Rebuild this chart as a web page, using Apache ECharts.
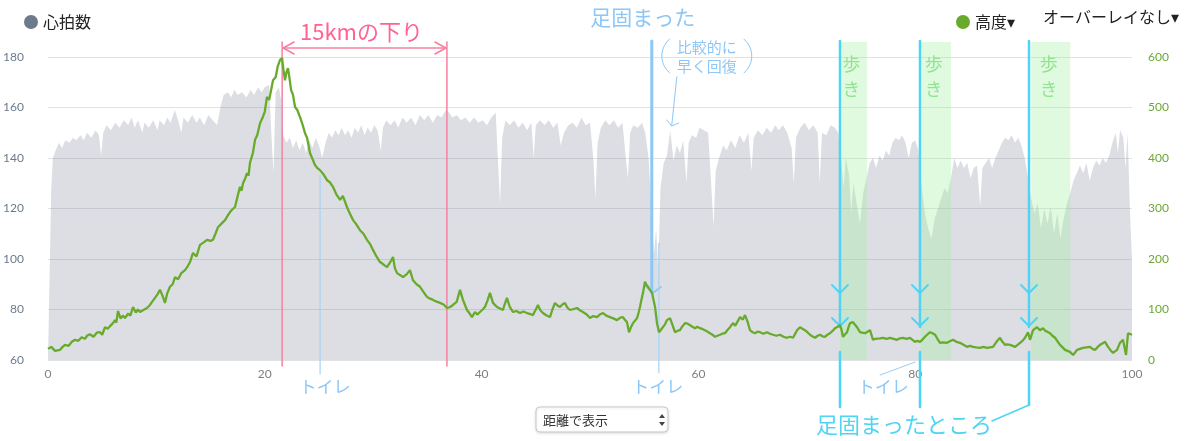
<!DOCTYPE html>
<html>
<head>
<meta charset="utf-8">
<title>心拍数と高度</title>
<style>
    html, body { margin: 0; padding: 0; background: #fff; }
    #main { width: 1200px; height: 441px; }
</style>
</head>
<body>
<div id="main"></div>
<script src="https://cdn.jsdelivr.net/npm/echarts@6/dist/echarts.min.js"></script>
<script type="text/javascript">
// 心拍数 [距離km, bpm]
var heartRate = [
    [0,60],[0.15,60],[0.3,128],[0.45,140],[0.7,143],[1.0,146],[1.3,144],[1.6,147],[2.0,146],[2.3,148],[2.6,147],[3.0,149],
    [3.3,147],[3.6,150],[4.0,148],[4.4,151],[4.7,149],[4.9,141],[5.1,150],[5.4,153],[5.8,151],[6.2,154],[6.6,152],[7.0,155],
    [7.4,153],[7.7,156],[8.0,152],[8.3,155],[8.7,150],[8.9,154],[9.3,152],[9.7,155],[10.1,151],[10.3,155],[10.7,153],[11.0,156],
    [11.3,154],[11.7,159],[12.0,155],[12.3,150],[12.5,156],[12.9,154],[13.3,157],[13.7,154],[14.0,156],[14.4,153],[14.8,157],
    [15.2,155],[15.6,153],[15.9,160],[16.2,165],[16.6,166],[16.9,164],[17.2,167],[17.5,165],[17.9,166],[18.3,164],[18.7,167],
    [19.0,165],[19.4,168],[19.7,166],[20.0,168],[20.4,169],[20.6,150],[20.8,134],[21.0,166],[21.3,168],[21.5,163],
    [21.7,149],[22.0,146],[22.3,148],[22.6,144],[22.9,147],[23.2,143],[23.5,146],[23.8,142],[24.1,147],[24.4,144],[24.7,148],
    [25.0,145],[25.3,140],[25.6,146],[25.9,150],[26.2,148],[26.5,151],[26.8,149],[27.1,152],[27.4,149],[27.7,151],[28.0,148],
    [28.3,152],[28.6,150],[28.9,153],[29.2,149],[29.5,152],[29.8,150],[30.1,153],[30.4,151],[30.7,143],[30.9,152],[31.2,155],
    [31.6,153],[32.0,155],[32.3,152],[32.7,156],[33.1,154],[33.5,156],[33.9,153],[34.3,157],[34.7,155],[35.1,157],[35.5,154],
    [35.9,157],[36.3,156],[36.7,159],[37.0,158],[37.3,156],[37.7,157],[38.1,155],[38.5,156],[38.9,154],[39.3,156],[39.7,154],
    [40.1,155],[40.5,153],[40.9,156],[41.3,158],[41.5,140],[41.7,122],[41.9,148],[42.2,155],[42.6,153],[43.0,155],[43.4,152],
    [43.8,154],[44.2,151],[44.6,154],[44.8,140],[45.0,153],[45.4,155],[45.8,153],[46.2,155],[46.6,152],[47.0,154],[47.3,145],
    [47.6,150],[48.0,153],[48.4,154],[48.8,152],[49.2,156],[49.6,153],[50.0,154],[50.3,140],[50.5,124],[50.7,146],[51.0,152],
    [51.4,155],[51.8,153],[52.2,155],[52.6,152],[53.0,154],[53.3,140],[53.5,132],[53.7,150],[54.0,153],[54.4,152],[54.8,154],
    [55.1,150],[55.4,140],[55.7,118],[55.9,102],[56.1,112],[56.3,96],[56.5,128],[56.8,138],[57.1,141],[57.4,151],[57.7,139],
    [58.0,145],[58.3,142],[58.6,147],[58.9,130],[59.1,146],[59.4,149],[59.8,148],[60.1,152],[60.5,151],[60.9,150],[61.2,128],
    [61.4,113],[61.6,135],[61.9,140],[62.3,145],[62.6,143],[63.0,147],[63.4,144],[63.8,149],[64.2,146],[64.6,150],[64.9,135],
    [65.1,148],[65.5,151],[65.9,149],[66.3,152],[66.7,150],[67.1,153],[67.4,151],[67.8,153],[68.2,150],[68.6,144],[68.8,130],
    [69.0,148],[69.4,152],[69.8,154],[70.2,151],[70.6,153],[71.0,150],[71.2,130],[71.4,150],[71.8,149],[72.2,153],[72.6,152],
    [72.9,150],[73.1,142],[73.4,128],[73.6,140],[73.9,133],[74.1,118],[74.3,130],[74.6,122],[74.9,114],[75.2,126],[75.5,132],
    [75.8,138],[76.1,140],[76.4,136],[76.7,141],[77.0,139],[77.3,143],[77.6,141],[77.9,146],[78.2,148],[78.5,147],[78.8,149],
    [79.1,146],[79.4,140],[79.7,146],[80.0,147],[80.3,143],[80.6,128],[80.9,118],[81.2,112],[81.5,108],[81.8,116],[82.1,120],
    [82.4,124],[82.7,128],[83.0,126],[83.3,132],[83.6,140],[83.9,136],[84.2,139],[84.5,136],[84.8,138],[85.1,132],[85.4,136],
    [85.7,137],[86.0,121],[86.2,136],[86.5,138],[86.8,140],[87.1,136],[87.4,140],[87.7,143],[88.0,146],[88.3,148],[88.6,147],
    [88.9,149],[89.2,146],[89.5,148],[89.8,145],[90.1,140],[90.4,132],[90.7,124],[91.0,118],[91.3,122],[91.6,112],[91.9,120],
    [92.2,114],[92.5,121],[92.8,110],[93.1,118],[93.4,108],[93.7,116],[94.0,122],[94.3,126],[94.6,131],[94.9,134],[95.2,137],
    [95.5,134],[95.8,138],[96.1,131],[96.4,136],[96.7,139],[97.0,137],[97.3,140],[97.6,138],[97.9,141],[98.2,146],[98.5,150],
    [98.7,142],[98.9,151],[99.2,148],[99.4,136],[99.6,150],[99.8,120],[100,100]
];

// 高度 [距離km, m]
var altitude = [
    [0,22],[0.3,26],[0.65,18],[1.1,20],[1.35,26],[1.57,30],[1.9,28],[2.2,36],[2.49,40],[2.8,38],[3.1,45],[3.41,42],[3.6,48],
    [3.87,51],[4.2,46],[4.5,54],[4.8,55],[5.0,50],[5.26,65],[5.5,62],[5.72,67],[5.95,72],[6.18,79],[6.3,74],[6.46,97],[6.7,82],
    [6.9,88],[7.1,83],[7.4,92],[7.6,88],[7.84,105],[8.1,94],[8.3,100],[8.49,95],[8.8,99],[9.13,103],[9.41,109],[9.6,115],
    [9.87,123],[10.1,130],[10.33,139],[10.55,128],[10.79,113],[11.0,132],[11.25,145],[11.5,150],[11.72,164],[12.0,160],
    [12.3,172],[12.64,178],[12.9,186],[13.1,194],[13.38,212],[13.7,205],[14.02,228],[14.3,232],[14.67,238],[15.0,236],
    [15.22,238],[15.45,250],[15.68,263],[16.0,270],[16.33,277],[16.55,285],[16.79,293],[17.0,298],[17.25,303],[17.5,325],
    [17.71,343],[17.85,335],[17.99,350],[18.2,360],[18.36,370],[18.5,365],[18.63,390],[18.9,410],[19.1,436],[19.3,445],
    [19.56,469],[19.8,480],[20.0,492],[20.2,521],[20.4,515],[20.76,554],[21.0,560],[21.2,582],[21.4,594],[21.59,598],
    [21.72,575],[21.86,554],[22.0,570],[22.14,578],[22.3,555],[22.42,535],[22.6,525],[22.79,501],[23.0,495],[23.25,481],
    [23.5,465],[23.71,449],[23.9,440],[24.17,410],[24.4,398],[24.63,386],[24.85,380],[25.09,376],[25.4,368],[25.74,356],
    [26.0,352],[26.29,343],[26.6,328],[26.94,317],[27.2,325],[27.58,303],[27.8,292],[28.14,277],[28.4,270],[28.78,257],
    [29.1,250],[29.43,238],[29.7,230],[29.98,218],[30.3,205],[30.63,194],[30.9,190],[31.27,184],[31.6,195],[31.83,204],
    [32.0,182],[32.2,172],[32.5,168],[32.75,164],[33.1,170],[33.39,178],[33.67,158],[34.0,150],[34.32,145],[34.6,136],
    [34.96,125],[35.2,122],[35.52,119],[35.8,116],[36.16,113],[36.5,110],[36.81,103],[37.1,105],[37.36,109],[37.7,115],
    [38.01,139],[38.28,119],[38.65,99],[38.9,92],[39.11,85],[39.39,95],[39.6,90],[39.85,95],[40.1,100],[40.31,105],
    [40.55,118],[40.77,133],[41.05,113],[41.42,105],[41.7,102],[41.97,99],[42.1,108],[42.34,123],[42.6,105],[42.9,95],
    [43.2,97],[43.54,93],[43.85,96],[44.19,93],[44.5,91],[44.74,89],[45.0,100],[45.2,109],[45.4,99],[45.66,93],[46.0,88],
    [46.31,85],[46.5,98],[46.77,113],[47.0,108],[47.23,105],[47.45,110],[47.69,113],[47.9,104],[48.15,99],[48.5,101],
    [48.8,103],[49.1,98],[49.35,95],[49.7,90],[50.0,83],[50.3,87],[50.65,85],[50.9,90],[51.2,93],[51.5,88],[51.85,85],
    [52.2,82],[52.49,79],[52.8,84],[53.04,85],[53.2,80],[53.41,75],[53.6,55],[53.8,66],[53.97,73],[54.2,79],[54.34,83],
    [54.5,95],[54.61,105],[54.75,120],[54.89,133],[55.07,155],[55.2,149],[55.35,145],[55.5,140],[55.72,133],[55.85,120],
    [56.0,105],[56.18,73],[56.37,55],[56.55,60],[56.73,63],[56.9,70],[57.1,79],[57.38,83],[57.6,70],[57.84,55],[58.1,58],
    [58.3,59],[58.5,66],[58.76,73],[59.0,72],[59.23,69],[59.45,66],[59.69,63],[59.9,66],[60.15,63],[60.4,61],[60.61,59],
    [60.85,56],[61.07,53],[61.3,50],[61.53,46],[61.75,48],[61.99,50],[62.2,52],[62.45,53],[62.7,60],[62.92,65],[63.19,73],
    [63.4,68],[63.56,65],[63.84,85],[64.1,80],[64.3,89],[64.55,75],[64.76,59],[65.0,55],[65.22,53],[65.45,56],[65.68,55],
    [66.0,52],[66.33,55],[66.6,52],[66.88,50],[67.2,48],[67.53,50],[67.85,46],[68.17,44],[68.45,46],[68.73,44],[69.1,59],
    [69.37,65],[69.6,62],[69.83,59],[70.1,54],[70.3,50],[70.5,47],[70.76,44],[71.0,48],[71.22,50],[71.45,47],[71.68,46],
    [71.9,50],[72.14,53],[72.4,58],[72.6,63],[72.85,66],[73.06,69],[73.2,60],[73.34,46],[73.5,50],[73.71,55],[73.85,65],
    [73.99,73],[74.26,75],[74.45,70],[74.63,65],[74.91,55],[75.1,54],[75.37,53],[75.6,56],[75.83,59],[76.11,40],[76.3,42],
    [76.48,40],[76.75,43],[77.03,44],[77.35,42],[77.68,44],[78.0,42],[78.32,40],[78.6,43],[78.87,44],[79.2,42],[79.52,44],
    [79.75,40],[79.98,36],[80.2,38],[80.44,36],[80.65,40],[80.9,46],[81.1,50],[81.37,55],[81.6,53],[81.83,50],[82.05,42],
    [82.29,34],[82.6,35],[82.93,34],[83.2,37],[83.49,40],[83.8,36],[84.13,34],[84.45,30],[84.78,26],[85.05,28],[85.33,26],
    [85.65,25],[85.98,24],[86.3,26],[86.62,24],[86.9,25],[87.18,26],[87.5,36],[87.82,44],[88.05,36],[88.28,30],[88.5,31],
    [88.75,30],[89.0,28],[89.21,26],[89.45,30],[89.67,34],[89.9,38],[90.13,44],[90.41,55],[90.59,40],[90.87,59],[91.05,62],
    [91.24,65],[91.51,59],[91.79,63],[92.0,58],[92.16,55],[92.44,53],[92.65,48],[92.9,44],[93.1,38],[93.36,30],[93.6,25],
    [93.82,20],[94.05,18],[94.28,16],[94.56,10],[94.75,15],[94.93,20],[95.2,22],[95.48,24],[95.8,25],[96.13,26],[96.35,22],
    [96.59,20],[96.8,25],[97.05,30],[97.3,33],[97.51,36],[97.79,26],[98.0,20],[98.25,14],[98.62,20],[98.89,34],[99.17,40],
    [99.45,10],[99.63,53],[99.8,50],[100,50]
];

var hrTicks = [60, 80, 100, 120, 140, 160, 180];

// 注釈 (km)
var descentKm = [21.6, 36.8];
var stiffKm = 55.7;
var toiletKm = [25.1, 56.35];
var toiletLeaderKm = 80.0;
var stiffSpotKm = [73.06, 80.44, 90.5];
var walkBands = [[73.06, 75.55], [80.5, 83.3], [90.7, 94.3]];

var JP = '"Noto Sans CJK JP", "DejaVu Sans", sans-serif';
var NUM = 'Lato, "Noto Sans", sans-serif';

var chart = echarts.init(document.getElementById('main'));
chart.setOption({
    animation: false,
    backgroundColor: '#fff',
    grid: { left: 48, right: 68, top: 57, bottom: 81 },
    legend: [
        {
            data: ['心拍数'], left: 19, top: 9, icon: 'circle', itemWidth: 14, itemHeight: 14,
            selectedMode: false, textStyle: { fontSize: 16, color: '#222', fontFamily: JP }
        },
        {
            data: ['高度'], left: 951, top: 9, icon: 'circle', itemWidth: 14, itemHeight: 14,
            selectedMode: false, formatter: '{name}▾', textStyle: { fontSize: 16, color: '#222', fontFamily: JP }
        }
    ],
    xAxis: {
        type: 'value', min: 0, max: 100, interval: 20,
        axisLine: { show: false }, axisTick: { show: false }, splitLine: { show: false },
        axisLabel: { color: '#808080', fontSize: 12, margin: 8, fontFamily: NUM }
    },
    yAxis: [
        {
            type: 'value', min: 60, max: 180, interval: 20, position: 'left',
            axisLine: { show: false }, axisTick: { show: false }, splitLine: { show: false },
            axisLabel: { color: '#6b7b8d', fontSize: 12, margin: 24, fontFamily: NUM }
        },
        {
            type: 'value', min: 0, max: 600, interval: 100, position: 'right',
            axisLine: { show: false }, axisTick: { show: false }, splitLine: { show: false },
            axisLabel: { color: '#6aa933', fontSize: 12, margin: 16, fontFamily: NUM }
        }
    ],
    series: [
        {
            name: '心拍数', type: 'line', yAxisIndex: 0, data: heartRate, symbol: 'none', z: 1,
            itemStyle: { color: '#6c7a8b' },
            lineStyle: { width: 0, opacity: 0 },
            areaStyle: { color: '#dcdee3', opacity: 1 },
            markLine: {
                silent: true, symbol: ['none', 'none'], label: { show: false },
                lineStyle: { color: 'rgba(120,125,135,0.22)', width: 1, type: 'solid' },
                data: hrTicks.map(function (v) { return { yAxis: v }; })
            }
        },
        {
            name: '高度', type: 'line', yAxisIndex: 1, data: altitude, symbol: 'none', z: 10,
            itemStyle: { color: '#68ab2c' },
            lineStyle: { width: 2.3, color: '#68ab2c' }
        }
    ]
});

// 注釈は軸の座標から配置する
function px(km) { return chart.convertToPixel({ xAxisIndex: 0 }, km); }
var plotBottom = 360;
var els = [];

function poly(points, color, width, z) {
    els.push({
        type: 'polyline', silent: true, z: z || 8, shape: { points: points },
        style: { stroke: color, lineWidth: width, fill: null, lineJoin: 'round', lineCap: 'round' }
    });
}
function text(x, y, str, size, color, extra) {
    var style = {
        text: str, font: size + 'px ' + JP, fill: color,
        align: 'center', verticalAlign: 'middle', textAlign: 'center', textVerticalAlign: 'middle'
    };
    if (extra) { for (var k in extra) style[k] = extra[k]; }
    els.push({ type: 'text', silent: true, z: 12, x: x, y: y, style: style });
}

var PINK = '#f7809f', BLUE = '#8cc7f7', LBLUE = '#a9d2f5', CYAN = '#4fd4f4';

// 歩き区間
walkBands.forEach(function (b) {
    var x0 = px(b[0]), x1 = px(b[1]);
    els.push({
        type: 'rect', silent: true, z: 6,
        shape: { x: x0, y: 42, width: x1 - x0, height: plotBottom - 42 },
        style: { fill: 'rgba(160,240,160,0.33)' }
    });
    text((x0 + x1) / 2 - 2, 77, '歩\nき', 18, '#90e490', { lineHeight: 25 });
});

// 15kmの下り
var xl = px(descentKm[0]), xr = px(descentKm[1]);
poly([[xl, 42], [xl, 366]], PINK, 1.5);
poly([[xr, 42], [xr, 366]], PINK, 1.5);
poly([[xl + 1, 48], [xr - 1, 48]], PINK, 1.5);
poly([[xl + 12, 42], [xl + 1, 48], [xl + 12, 54]], PINK, 1.5);
poly([[xr - 12, 42], [xr - 1, 48], [xr - 12, 54]], PINK, 1.5);
text((xl + xr) / 2 - 3, 32, '15kmの下り', 22, '#ff6391');

// 足固まった
var xs = px(stiffKm);
poly([[xs, 41], [xs, 292]], BLUE, 3);
poly([[xs - 7, 285], [xs + 1, 293], [xs + 9, 287]], BLUE, 2);
text(xs - 9, 17, '足固まった', 21, BLUE);
text(xs + 55, 47, '比較的に', 15, BLUE);
text(xs + 55, 66, '早く回復', 15, BLUE);
els.push({ type: 'arc', silent: true, z: 12, shape: { cx: xs + 32, cy: 56, r: 22, startAngle: 2.256, endAngle: 4.027, clockwise: true },
    style: { stroke: BLUE, lineWidth: 1, fill: null } });
els.push({ type: 'arc', silent: true, z: 12, shape: { cx: xs + 78, cy: 56, r: 22, startAngle: -0.885, endAngle: 0.885, clockwise: true },
    style: { stroke: BLUE, lineWidth: 1, fill: null } });
poly([[xs + 25, 77], [xs + 20, 125]], BLUE, 1, 12);
poly([[xs + 15, 120], [xs + 20, 126], [xs + 27, 123]], BLUE, 1, 12);

// トイレ
var xt1 = px(toiletKm[0]), xt2 = px(toiletKm[1]), xt3 = px(toiletLeaderKm);
poly([[xt1, 175], [xt1, 374]], LBLUE, 1.2);
text(xt1 + 5, 387, 'トイレ', 17, BLUE);
poly([[xt2, 243], [xt2, 373]], LBLUE, 1.2);
text(xt2 - 1, 387, 'トイレ', 17, BLUE);
poly([[xt3 - 35, 375], [xt3, 362]], LBLUE, 1.2);
text(xt3 - 32, 387, 'トイレ', 17, BLUE);

// 足固まったところ
stiffSpotKm.forEach(function (km, i) {
    var x = px(km);
    var end = i === 2 ? 405 : 407;
    poly([[x, 41], [x, 327]], CYAN, 2.5);
    poly([[x, 352], [x, end]], CYAN, 2.5);
    poly([[x - 8, 285], [x, 293], [x + 8, 285]], CYAN, 2);
    poly([[x - 8, 318], [x, 326], [x + 8, 318]], CYAN, 2);
    if (i === 2) poly([[x, end], [992, 421]], CYAN, 1.5);
});
text(904, 425, '足固まったところ', 22, CYAN);

// 右上の表示切替
text(1043, 17, 'オーバーレイなし▾', 16, '#222', { align: 'left', textAlign: 'left' });

// 下部のセレクト
els.push({ type: 'rect', silent: true, z: 12, shape: { x: 536, y: 407, width: 132, height: 25, r: 4 },
    style: { fill: '#fff', stroke: '#c9c9c9', lineWidth: 1, shadowBlur: 3, shadowColor: 'rgba(0,0,0,0.12)', shadowOffsetY: 1 } });
text(543, 420, '距離で表示', 13, '#333', { align: 'left', textAlign: 'left' });
els.push({ type: 'polygon', silent: true, z: 13, shape: { points: [[659, 418], [662, 414], [665, 418]] }, style: { fill: '#444' } });
els.push({ type: 'polygon', silent: true, z: 13, shape: { points: [[659, 422], [662, 426], [665, 422]] }, style: { fill: '#444' } });

chart.setOption({ graphic: { elements: els } });
</script>
</body>
</html>
